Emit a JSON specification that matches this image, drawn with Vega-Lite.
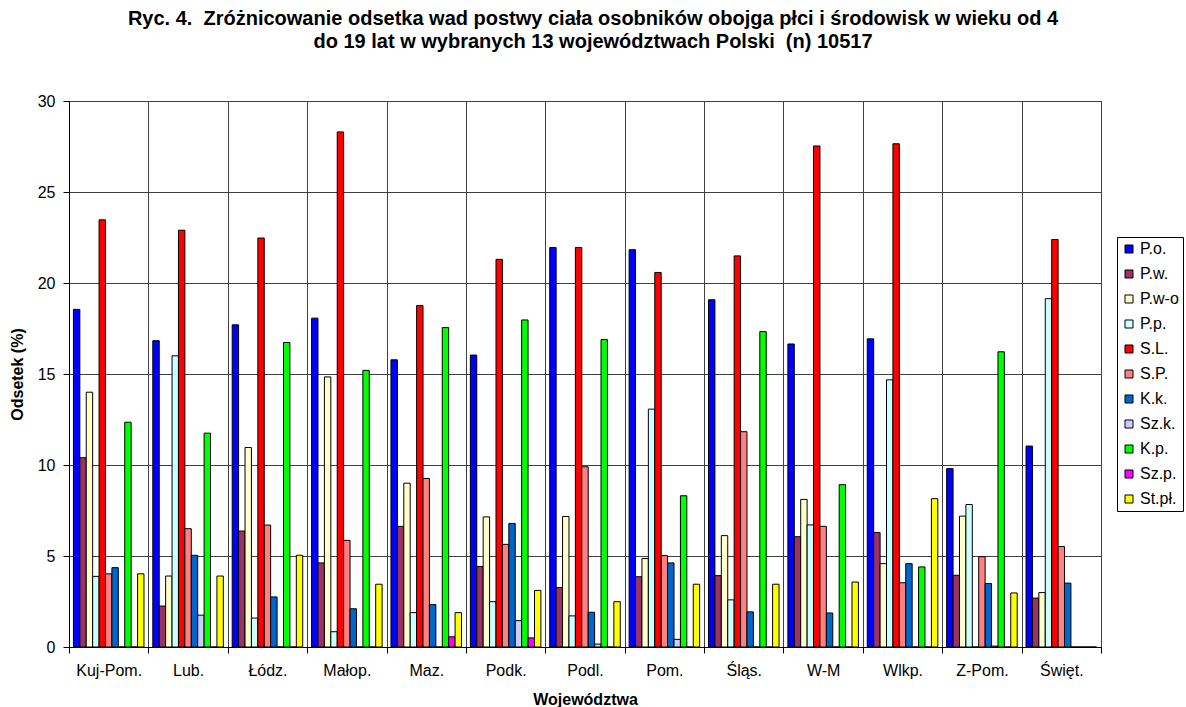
{
  "$schema": "https://vega.github.io/schema/vega-lite/v6.json",
  "width": 1032,
  "height": 546,
  "autosize": {"type": "none"},
  "padding": {"left": 69, "top": 101, "right": 85, "bottom": 60},
  "background": "white",
  "title": {
    "text": [
      "Ryc. 4. \u00a0Zróżnicowanie odsetka wad postwy ciała osobników obojga płci i środowisk w wieku od 4",
      "do 19 lat w wybranych 13 województwach Polski \u00a0(n) 10517"
    ],
    "font": "Liberation Sans",
    "fontSize": 20,
    "fontWeight": "bold",
    "color": "#000000",
    "anchor": "middle",
    "frame": "group",
    "dx": 8,
    "offset": 41,
    "lineHeight": 23
  },
  "config": {
    "font": "Liberation Sans",
    "view": {"stroke": "#808080", "strokeWidth": 1}
  },
  "data": {
    "values": [
      {"woj": "Kuj-Pom.", "wada": "P.o.", "odsetek": 18.55},
      {"woj": "Kuj-Pom.", "wada": "P.w.", "odsetek": 10.4},
      {"woj": "Kuj-Pom.", "wada": "P.w-o", "odsetek": 14.0},
      {"woj": "Kuj-Pom.", "wada": "P.p.", "odsetek": 3.88},
      {"woj": "Kuj-Pom.", "wada": "S.L.", "odsetek": 23.47},
      {"woj": "Kuj-Pom.", "wada": "S.P.", "odsetek": 4.02},
      {"woj": "Kuj-Pom.", "wada": "K.k.", "odsetek": 4.36},
      {"woj": "Kuj-Pom.", "wada": "Sz.k.", "odsetek": 0},
      {"woj": "Kuj-Pom.", "wada": "K.p.", "odsetek": 12.35},
      {"woj": "Kuj-Pom.", "wada": "Sz.p.", "odsetek": 0},
      {"woj": "Kuj-Pom.", "wada": "St.pł.", "odsetek": 4.02},

      {"woj": "Lub.", "wada": "P.o.", "odsetek": 16.83},
      {"woj": "Lub.", "wada": "P.w.", "odsetek": 2.25},
      {"woj": "Lub.", "wada": "P.w-o", "odsetek": 3.9},
      {"woj": "Lub.", "wada": "P.p.", "odsetek": 16.0},
      {"woj": "Lub.", "wada": "S.L.", "odsetek": 22.9},
      {"woj": "Lub.", "wada": "S.P.", "odsetek": 6.5},
      {"woj": "Lub.", "wada": "K.k.", "odsetek": 5.04},
      {"woj": "Lub.", "wada": "Sz.k.", "odsetek": 1.75},
      {"woj": "Lub.", "wada": "K.p.", "odsetek": 11.75},
      {"woj": "Lub.", "wada": "Sz.p.", "odsetek": 0},
      {"woj": "Lub.", "wada": "St.pł.", "odsetek": 3.9},

      {"woj": "Łódz.", "wada": "P.o.", "odsetek": 17.7},
      {"woj": "Łódz.", "wada": "P.w.", "odsetek": 6.37},
      {"woj": "Łódz.", "wada": "P.w-o", "odsetek": 10.96},
      {"woj": "Łódz.", "wada": "P.p.", "odsetek": 1.59},
      {"woj": "Łódz.", "wada": "S.L.", "odsetek": 22.47},
      {"woj": "Łódz.", "wada": "S.P.", "odsetek": 6.7},
      {"woj": "Łódz.", "wada": "K.k.", "odsetek": 2.75},
      {"woj": "Łódz.", "wada": "Sz.k.", "odsetek": 0},
      {"woj": "Łódz.", "wada": "K.p.", "odsetek": 16.73},
      {"woj": "Łódz.", "wada": "Sz.p.", "odsetek": 0},
      {"woj": "Łódz.", "wada": "St.pł.", "odsetek": 5.04},

      {"woj": "Małop.", "wada": "P.o.", "odsetek": 18.07},
      {"woj": "Małop.", "wada": "P.w.", "odsetek": 4.62},
      {"woj": "Małop.", "wada": "P.w-o", "odsetek": 14.84},
      {"woj": "Małop.", "wada": "P.p.", "odsetek": 0.84},
      {"woj": "Małop.", "wada": "S.L.", "odsetek": 28.3},
      {"woj": "Małop.", "wada": "S.P.", "odsetek": 5.86},
      {"woj": "Małop.", "wada": "K.k.", "odsetek": 2.1},
      {"woj": "Małop.", "wada": "Sz.k.", "odsetek": 0},
      {"woj": "Małop.", "wada": "K.p.", "odsetek": 15.2},
      {"woj": "Małop.", "wada": "Sz.p.", "odsetek": 0},
      {"woj": "Małop.", "wada": "St.pł.", "odsetek": 3.45},

      {"woj": "Maz.", "wada": "P.o.", "odsetek": 15.78},
      {"woj": "Maz.", "wada": "P.w.", "odsetek": 6.63},
      {"woj": "Maz.", "wada": "P.w-o", "odsetek": 9.0},
      {"woj": "Maz.", "wada": "P.p.", "odsetek": 1.89},
      {"woj": "Maz.", "wada": "S.L.", "odsetek": 18.76},
      {"woj": "Maz.", "wada": "S.P.", "odsetek": 9.26},
      {"woj": "Maz.", "wada": "K.k.", "odsetek": 2.33},
      {"woj": "Maz.", "wada": "Sz.k.", "odsetek": 0},
      {"woj": "Maz.", "wada": "K.p.", "odsetek": 17.55},
      {"woj": "Maz.", "wada": "Sz.p.", "odsetek": 0.56},
      {"woj": "Maz.", "wada": "St.pł.", "odsetek": 1.89},

      {"woj": "Podk.", "wada": "P.o.", "odsetek": 16.04},
      {"woj": "Podk.", "wada": "P.w.", "odsetek": 4.42},
      {"woj": "Podk.", "wada": "P.w-o", "odsetek": 7.15},
      {"woj": "Podk.", "wada": "P.p.", "odsetek": 2.49},
      {"woj": "Podk.", "wada": "S.L.", "odsetek": 21.3},
      {"woj": "Podk.", "wada": "S.P.", "odsetek": 5.64},
      {"woj": "Podk.", "wada": "K.k.", "odsetek": 6.79},
      {"woj": "Podk.", "wada": "Sz.k.", "odsetek": 1.45},
      {"woj": "Podk.", "wada": "K.p.", "odsetek": 17.97},
      {"woj": "Podk.", "wada": "Sz.p.", "odsetek": 0.5},
      {"woj": "Podk.", "wada": "St.pł.", "odsetek": 3.11},

      {"woj": "Podl.", "wada": "P.o.", "odsetek": 21.95},
      {"woj": "Podl.", "wada": "P.w.", "odsetek": 3.27},
      {"woj": "Podl.", "wada": "P.w-o", "odsetek": 7.17},
      {"woj": "Podl.", "wada": "P.p.", "odsetek": 1.71},
      {"woj": "Podl.", "wada": "S.L.", "odsetek": 21.95},
      {"woj": "Podl.", "wada": "S.P.", "odsetek": 9.9},
      {"woj": "Podl.", "wada": "K.k.", "odsetek": 1.91},
      {"woj": "Podl.", "wada": "Sz.k.", "odsetek": 0.16},
      {"woj": "Podl.", "wada": "K.p.", "odsetek": 16.89},
      {"woj": "Podl.", "wada": "Sz.p.", "odsetek": 0},
      {"woj": "Podl.", "wada": "St.pł.", "odsetek": 2.49},

      {"woj": "Pom.", "wada": "P.o.", "odsetek": 21.83},
      {"woj": "Pom.", "wada": "P.w.", "odsetek": 3.86},
      {"woj": "Pom.", "wada": "P.w-o", "odsetek": 4.86},
      {"woj": "Pom.", "wada": "P.p.", "odsetek": 13.07},
      {"woj": "Pom.", "wada": "S.L.", "odsetek": 20.58},
      {"woj": "Pom.", "wada": "S.P.", "odsetek": 5.02},
      {"woj": "Pom.", "wada": "K.k.", "odsetek": 4.62},
      {"woj": "Pom.", "wada": "Sz.k.", "odsetek": 0.42},
      {"woj": "Pom.", "wada": "K.p.", "odsetek": 8.31},
      {"woj": "Pom.", "wada": "Sz.p.", "odsetek": 0},
      {"woj": "Pom.", "wada": "St.pł.", "odsetek": 3.45},

      {"woj": "Śląs.", "wada": "P.o.", "odsetek": 19.08},
      {"woj": "Śląs.", "wada": "P.w.", "odsetek": 3.92},
      {"woj": "Śląs.", "wada": "P.w-o", "odsetek": 6.12},
      {"woj": "Śląs.", "wada": "P.p.", "odsetek": 2.59},
      {"woj": "Śląs.", "wada": "S.L.", "odsetek": 21.49},
      {"woj": "Śląs.", "wada": "S.P.", "odsetek": 11.83},
      {"woj": "Śląs.", "wada": "K.k.", "odsetek": 1.93},
      {"woj": "Śląs.", "wada": "Sz.k.", "odsetek": 0},
      {"woj": "Śląs.", "wada": "K.p.", "odsetek": 17.33},
      {"woj": "Śląs.", "wada": "Sz.p.", "odsetek": 0},
      {"woj": "Śląs.", "wada": "St.pł.", "odsetek": 3.45},

      {"woj": "W-M", "wada": "P.o.", "odsetek": 16.65},
      {"woj": "W-M", "wada": "P.w.", "odsetek": 6.06},
      {"woj": "W-M", "wada": "P.w-o", "odsetek": 8.11},
      {"woj": "W-M", "wada": "P.p.", "odsetek": 6.71},
      {"woj": "W-M", "wada": "S.L.", "odsetek": 27.53},
      {"woj": "W-M", "wada": "S.P.", "odsetek": 6.63},
      {"woj": "W-M", "wada": "K.k.", "odsetek": 1.87},
      {"woj": "W-M", "wada": "Sz.k.", "odsetek": 0},
      {"woj": "W-M", "wada": "K.p.", "odsetek": 8.92},
      {"woj": "W-M", "wada": "Sz.p.", "odsetek": 0},
      {"woj": "W-M", "wada": "St.pł.", "odsetek": 3.57},

      {"woj": "Wlkp.", "wada": "P.o.", "odsetek": 16.93},
      {"woj": "Wlkp.", "wada": "P.w.", "odsetek": 6.29},
      {"woj": "Wlkp.", "wada": "P.w-o", "odsetek": 4.58},
      {"woj": "Wlkp.", "wada": "P.p.", "odsetek": 14.68},
      {"woj": "Wlkp.", "wada": "S.L.", "odsetek": 27.65},
      {"woj": "Wlkp.", "wada": "S.P.", "odsetek": 3.53},
      {"woj": "Wlkp.", "wada": "K.k.", "odsetek": 4.58},
      {"woj": "Wlkp.", "wada": "Sz.k.", "odsetek": 0},
      {"woj": "Wlkp.", "wada": "K.p.", "odsetek": 4.4},
      {"woj": "Wlkp.", "wada": "Sz.p.", "odsetek": 0},
      {"woj": "Wlkp.", "wada": "St.pł.", "odsetek": 8.15},

      {"woj": "Z-Pom.", "wada": "P.o.", "odsetek": 9.8},
      {"woj": "Z-Pom.", "wada": "P.w.", "odsetek": 3.94},
      {"woj": "Z-Pom.", "wada": "P.w-o", "odsetek": 7.19},
      {"woj": "Z-Pom.", "wada": "P.p.", "odsetek": 7.83},
      {"woj": "Z-Pom.", "wada": "S.L.", "odsetek": 0},
      {"woj": "Z-Pom.", "wada": "S.P.", "odsetek": 4.96},
      {"woj": "Z-Pom.", "wada": "K.k.", "odsetek": 3.49},
      {"woj": "Z-Pom.", "wada": "Sz.k.", "odsetek": 0.05},
      {"woj": "Z-Pom.", "wada": "K.p.", "odsetek": 16.22},
      {"woj": "Z-Pom.", "wada": "Sz.p.", "odsetek": 0},
      {"woj": "Z-Pom.", "wada": "St.pł.", "odsetek": 2.97},

      {"woj": "Święt.", "wada": "P.o.", "odsetek": 11.04},
      {"woj": "Święt.", "wada": "P.w.", "odsetek": 2.69},
      {"woj": "Święt.", "wada": "P.w-o", "odsetek": 2.99},
      {"woj": "Święt.", "wada": "P.p.", "odsetek": 19.14},
      {"woj": "Święt.", "wada": "S.L.", "odsetek": 22.39},
      {"woj": "Święt.", "wada": "S.P.", "odsetek": 5.52},
      {"woj": "Święt.", "wada": "K.k.", "odsetek": 3.51},
      {"woj": "Święt.", "wada": "Sz.k.", "odsetek": 0},
      {"woj": "Święt.", "wada": "K.p.", "odsetek": 0},
      {"woj": "Święt.", "wada": "Sz.p.", "odsetek": 0},
      {"woj": "Święt.", "wada": "St.pł.", "odsetek": 0}
    ]
  },
  "mark": {"type": "bar", "stroke": "#000000", "strokeWidth": 1},
  "encoding": {
    "x": {
      "field": "woj",
      "type": "nominal",
      "sort": null,
      "scale": {"paddingInner": 0, "paddingOuter": 0},
      "axis": {
        "title": "Województwa",
        "titleFontSize": 16,
        "titleFontWeight": "bold",
        "titleColor": "#000000",
        "titlePadding": 13,
        "labelAngle": 0,
        "labelFontSize": 16,
        "labelColor": "#000000",
        "labelPadding": 9,
        "tickBand": "extent",
        "tickSize": 6,
        "tickColor": "#000000",
        "domainColor": "#000000",
        "grid": true,
        "gridColor": "#404040",
        "gridWidth": 1
      }
    },
    "xOffset": {
      "field": "wada",
      "type": "nominal",
      "sort": null,
      "scale": {"paddingInner": 0, "paddingOuter": 0.69}
    },
    "y": {
      "field": "odsetek",
      "type": "quantitative",
      "scale": {"domain": [0, 30], "nice": false},
      "axis": {
        "title": "Odsetek (%)",
        "titleFontSize": 16,
        "titleFontWeight": "bold",
        "titleColor": "#000000",
        "titlePadding": 12,
        "values": [0, 5, 10, 15, 20, 25, 30],
        "labelFontSize": 16,
        "labelColor": "#000000",
        "labelPadding": 8,
        "tickSize": 6,
        "tickColor": "#000000",
        "domainColor": "#000000",
        "grid": true,
        "gridColor": "#404040",
        "gridWidth": 1
      }
    },
    "color": {
      "field": "wada",
      "type": "nominal",
      "sort": null,
      "scale": {
        "domain": ["P.o.", "P.w.", "P.w-o", "P.p.", "S.L.", "S.P.", "K.k.", "Sz.k.", "K.p.", "Sz.p.", "St.pł."],
        "range": ["#0000FF", "#993366", "#FFFFCC", "#CCFFFF", "#FF0000", "#FF8080", "#0066CC", "#CCCCFF", "#00FF00", "#FF00FF", "#FFFF00"]
      },
      "legend": {
        "title": null,
        "orient": "none",
        "legendX": 1048,
        "legendY": 136,
        "symbolType": "square",
        "symbolSize": 64,
        "symbolStrokeColor": "#000000",
        "symbolStrokeWidth": 1,
        "symbolOpacity": 1,
        "labelFontSize": 16,
        "labelColor": "#000000",
        "labelOffset": 3,
        "rowPadding": 9,
        "padding": 4,
        "strokeColor": "#000000",
        "fillColor": "#FFFFFF"
      }
    }
  }
}
